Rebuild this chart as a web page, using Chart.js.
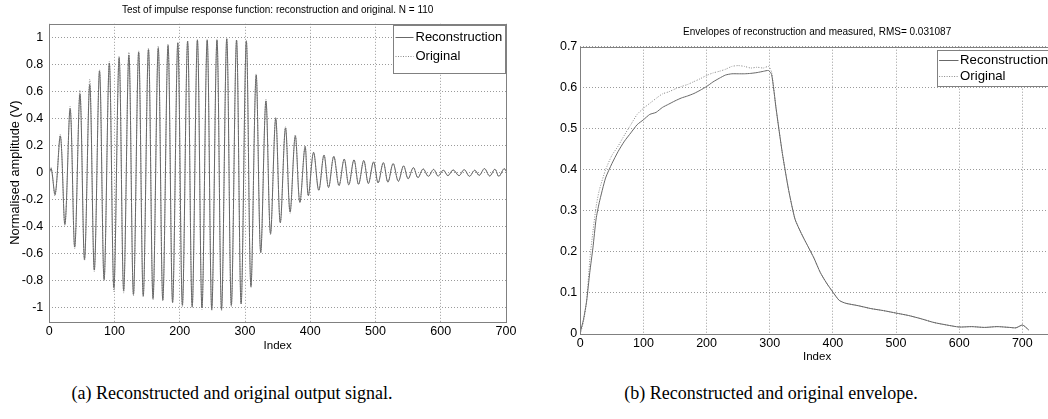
<!DOCTYPE html>
<html>
<head>
<meta charset="utf-8">
<script src="https://cdn.jsdelivr.net/npm/chart.js@4.4.1/dist/chart.umd.min.js"></script>
<style>
  html, body { margin: 0; padding: 0; background: #fff; width: 1048px; height: 419px; overflow: hidden; position: relative; }
  #wrapA { position: absolute; left: 0; top: 0; width: 524px; height: 360px; }
  #wrapB { position: absolute; left: 530px; top: 0; width: 540px; height: 370px; }
  .cap { position: absolute; top: 383px; font-family: "Liberation Serif", "Times New Roman", serif; font-size: 18px; line-height: 20px; color: #000; white-space: nowrap; transform: translateX(-50%); }
</style>
</head>
<body>
<div id="wrapA"><canvas id="sig" width="524" height="360" style="width:524px;height:360px"></canvas></div>
<div id="wrapB"><canvas id="env" width="540" height="370" style="width:540px;height:370px"></canvas></div>
<div class="cap" style="left:232px">(a) Reconstructed and original output signal.</div>
<div class="cap" style="left:771px">(b) Reconstructed and original envelope.</div>

<script>
// ---- axis ticks ----
const xTicks = [0, 100, 200, 300, 400, 500, 600, 700];
const sigYTicks = [-1, -0.8, -0.6, -0.4, -0.2, 0, 0.2, 0.4, 0.6, 0.8, 1];
const envYTicks = [0, 0.1, 0.2, 0.3, 0.4, 0.5, 0.6, 0.7];

// ---- output signal: turning points of each cycle ----
const sigStartIdx = [0, 3];
const reconStart = [0.0, 0.03];
const origStart = [0.0, 0.035];

const troughIdx = [9, 24, 39, 54, 69, 84, 99, 114, 129, 144, 159, 174, 189, 204, 219, 234, 249, 264, 279, 294,
                   309, 324, 339, 354, 369, 384, 397, 413, 428, 444, 459, 474, 489, 504, 519, 535, 550, 565, 581, 596,
                   611, 628, 644, 659, 675, 689];
const reconTrough = [-0.16, -0.38, -0.55, -0.64, -0.72, -0.79, -0.85, -0.87, -0.90, -0.91,
                     -0.93, -0.94, -0.96, -0.98, -0.99, -1.00, -1.01, -1.01, -0.98, -0.97,
                     -0.84, -0.59, -0.45, -0.37, -0.29, -0.22, -0.17, -0.13, -0.11, -0.095,
                     -0.09, -0.086, -0.08, -0.075, -0.07, -0.064, -0.045, -0.037, -0.027, -0.025,
                     -0.022, -0.022, -0.027, -0.02, -0.025, -0.027];
const origTrough = [-0.17, -0.39, -0.56, -0.65, -0.73, -0.80, -0.88, -0.89, -0.91, -0.92,
                    -0.94, -0.95, -0.96, -0.99, -1.00, -1.01, -1.02, -1.02, -0.99, -0.97,
                    -0.85, -0.59, -0.46, -0.37, -0.30, -0.22, -0.17, -0.13, -0.11, -0.097,
                    -0.09, -0.086, -0.081, -0.075, -0.07, -0.063, -0.046, -0.036, -0.027, -0.025,
                    -0.023, -0.022, -0.026, -0.021, -0.025, -0.027];

const peakIdx = [17, 32, 47, 62, 77, 92, 107, 122, 137, 152, 167, 182, 197, 212, 227, 242, 257, 272, 287, 302,
                 317, 332, 347, 362, 377, 392, 405, 421, 436, 452, 467, 482, 497, 512, 527, 543, 558, 573, 589, 604,
                 619, 636, 652, 667, 683, 697];
const reconPeak = [0.27, 0.47, 0.58, 0.65, 0.75, 0.81, 0.85, 0.87, 0.89, 0.91,
                   0.92, 0.94, 0.96, 0.97, 0.98, 0.98, 0.98, 0.99, 0.98, 0.97,
                   0.72, 0.53, 0.40, 0.33, 0.27, 0.19, 0.15, 0.13, 0.12, 0.10,
                   0.095, 0.09, 0.08, 0.074, 0.067, 0.05, 0.037, 0.027, 0.024, 0.018,
                   0.02, 0.022, 0.018, 0.03, 0.025, 0.03];
const origPeak = [0.28, 0.49, 0.61, 0.69, 0.76, 0.82, 0.86, 0.89, 0.90, 0.92,
                  0.935, 0.95, 0.96, 0.975, 0.985, 0.985, 0.985, 0.99, 0.98, 0.98,
                  0.73, 0.54, 0.41, 0.34, 0.28, 0.20, 0.15, 0.13, 0.12, 0.10,
                  0.095, 0.09, 0.079, 0.074, 0.066, 0.05, 0.037, 0.028, 0.024, 0.019,
                  0.02, 0.022, 0.018, 0.029, 0.025, 0.03];

const sigEndIdx = [700];
const reconEnd = [0.01];
const origEnd = [0.012];

// ---- envelopes ----
const envIdx = [0, 5, 10, 15, 20, 25, 30, 40, 50, 60, 70, 80, 90, 100, 110, 120, 130, 140, 150, 160,
                170, 180, 190, 200, 210, 220, 230, 240, 250, 260, 270, 280, 290, 298, 303, 310, 320, 330, 340, 350,
                360, 370, 380, 390, 400, 410, 420, 440, 460, 480, 500, 520, 540, 560, 580, 600, 620, 640, 660, 680,
                690, 700, 705, 710];
const reconEnv = [0.005, 0.035, 0.08, 0.15, 0.21, 0.28, 0.32, 0.38, 0.415, 0.445, 0.47, 0.49, 0.51, 0.522, 0.535, 0.54, 0.552, 0.56, 0.568, 0.575,
                  0.58, 0.586, 0.594, 0.603, 0.614, 0.623, 0.631, 0.634, 0.634, 0.634, 0.635, 0.637, 0.64, 0.642, 0.632, 0.55, 0.44, 0.35, 0.28, 0.245,
                  0.215, 0.185, 0.15, 0.124, 0.102, 0.082, 0.075, 0.069, 0.062, 0.057, 0.051, 0.045, 0.037, 0.028, 0.022, 0.017, 0.018, 0.016, 0.018, 0.016,
                  0.015, 0.022, 0.017, 0.01];
const origEnv = [0.0, 0.03, 0.08, 0.18, 0.25, 0.31, 0.35, 0.40, 0.435, 0.458, 0.485, 0.51, 0.535, 0.55, 0.562, 0.574, 0.585, 0.59, 0.597, 0.603,
                 0.608, 0.615, 0.622, 0.63, 0.636, 0.64, 0.645, 0.652, 0.654, 0.652, 0.648, 0.65, 0.648, 0.652, 0.638, 0.55, 0.44, 0.35, 0.28, 0.245,
                 0.215, 0.185, 0.15, 0.124, 0.102, 0.082, 0.075, 0.069, 0.062, 0.057, 0.051, 0.045, 0.037, 0.028, 0.022, 0.017, 0.018, 0.016, 0.018, 0.016,
                 0.015, 0.022, 0.017, 0.01];

// ---- styling ----
const SANS = '"Liberation Sans", Arial, Helvetica, sans-serif';
const FRAME = '#808080';
const GRID = '#9a9a9a';
const RECON = '#686868';
const ORIG = '#8a8a8a';

function pairs(xs, ys) { return xs.map((x, i) => ({ x: x, y: ys[i] })); }

function buildSignal(startX, startY, tX, tY, pX, pY, endX, endY) {
  const pts = pairs(startX, startY);
  for (let i = 0; i < tX.length; i++) {
    pts.push({ x: tX[i], y: tY[i] });
    pts.push({ x: pX[i], y: pY[i] });
  }
  return pts.concat(pairs(endX, endY));
}

// axes frame drawn over the data
const framePlugin = {
  id: 'axesFrame',
  afterDatasetsDraw(chart) {
    const { ctx, chartArea: a } = chart;
    ctx.save();
    ctx.setLineDash([]);
    ctx.strokeStyle = FRAME;
    ctx.lineWidth = 1;
    ctx.strokeRect(Math.round(a.left) + 0.5, Math.round(a.top) + 0.5,
                   Math.round(a.right - a.left), Math.round(a.bottom - a.top));
    ctx.restore();
  }
};

// title centred over the axes box
const axesTitle = {
  id: 'axesTitle',
  afterDraw(chart, args, o) {
    const { ctx, chartArea: a } = chart;
    ctx.save();
    ctx.font = o.size + 'px ' + SANS;
    ctx.fillStyle = '#000';
    ctx.textAlign = 'center';
    ctx.textBaseline = 'middle';
    ctx.fillText(o.text, (a.left + a.right) / 2, o.y);
    ctx.restore();
  }
};

// boxed legend inside the top-right corner of the axes
const boxLegend = {
  id: 'boxLegend',
  afterDraw(chart, args, o) {
    const { ctx, chartArea: a } = chart;
    const sets = chart.data.datasets;
    ctx.save();
    ctx.font = o.size + 'px ' + SANS;
    let tw = 0;
    sets.forEach(d => { tw = Math.max(tw, ctx.measureText(d.label).width); });
    const w = o.padL + o.sample + o.gap + tw + o.padR;
    const h = o.firstRow + o.rowH * (sets.length - 1) + o.bottomPad;
    const x0 = Math.round(a.right - o.rightGap - w) + 0.5;
    const y0 = Math.round(a.top + o.topGap) + 0.5;
    ctx.fillStyle = '#fff';
    ctx.fillRect(x0, y0, w, h);
    ctx.strokeStyle = FRAME;
    ctx.lineWidth = 1;
    ctx.strokeRect(x0, y0, Math.round(w), Math.round(h));
    sets.forEach((d, i) => {
      const cy = Math.round(y0 + o.firstRow + i * o.rowH) + 0.5;
      ctx.beginPath();
      ctx.setLineDash(d.borderDash || []);
      ctx.strokeStyle = d.borderColor;
      ctx.moveTo(x0 + o.padL, cy);
      ctx.lineTo(x0 + o.padL + o.sample, cy);
      ctx.stroke();
      ctx.setLineDash([]);
      ctx.fillStyle = '#000';
      ctx.textBaseline = 'middle';
      ctx.textAlign = 'left';
      ctx.fillText(d.label, x0 + o.padL + o.sample + o.gap, cy);
    });
    ctx.restore();
  }
};

function fixedWidth(w) { return s => { s.width = w; }; }
function fixedHeight(h) { return s => { s.height = h; }; }
function setTicks(list) { return s => { s.ticks = list.map(v => ({ value: v })); }; }

Chart.defaults.font.family = SANS;
Chart.defaults.color = '#000';

// ---- (a) output signal ----
new Chart(document.getElementById('sig'), {
  type: 'line',
  data: {
    datasets: [
      { label: 'Reconstruction',
        data: buildSignal(sigStartIdx, reconStart, troughIdx, reconTrough, peakIdx, reconPeak, sigEndIdx, reconEnd),
        borderColor: RECON, borderWidth: 1, pointRadius: 0, tension: 0.35, fill: false },
      { label: 'Original',
        data: buildSignal(sigStartIdx, origStart, troughIdx, origTrough, peakIdx, origPeak, sigEndIdx, origEnd),
        borderColor: ORIG, borderWidth: 1, borderDash: [1, 1.5], pointRadius: 0, tension: 0.35, fill: false }
    ]
  },
  options: {
    responsive: false, animation: false, events: [],
    layout: { padding: { left: 0, right: 18, top: 23.8, bottom: 6.5 } },
    plugins: {
      legend: { display: false }, tooltip: { enabled: false }, title: { display: false },
      axesTitle: { text: 'Test of impulse response function: reconstruction and original. N = 110', size: 10, y: 10 },
      boxLegend: { size: 13, padL: 2, sample: 18, gap: 2, padR: 3, topGap: 1.2, rightGap: 1.3,
                   firstRow: 11.7, rowH: 18.3, bottomPad: 18.3 }
    },
    scales: {
      x: { type: 'linear', min: 0, max: 700,
           afterBuildTicks: setTicks(xTicks), afterFit: fixedHeight(32),
           ticks: { font: { size: 12.5 }, padding: 3, maxRotation: 0, callback: v => String(v) },
           grid: { color: GRID, drawTicks: false }, border: { display: false, dash: [1, 2] },
           title: { display: true, text: 'Index', font: { size: 11.5 }, padding: { top: 0, bottom: 0.9 } } },
      y: { type: 'linear', min: -1.1, max: 1.1,
           afterBuildTicks: setTicks(sigYTicks), afterFit: fixedWidth(49.3),
           ticks: { font: { size: 12.5 }, padding: 6, callback: v => String(Math.round(v * 10) / 10) },
           grid: { color: GRID, drawTicks: false }, border: { display: false, dash: [1, 2] },
           title: { display: true, text: 'Normalised amplitude (V)', font: { size: 12.8 }, padding: { top: 7.8, bottom: 0 } } }
    }
  },
  plugins: [framePlugin, axesTitle, boxLegend]
});

// ---- (b) envelopes ----
new Chart(document.getElementById('env'), {
  type: 'line',
  data: {
    datasets: [
      { label: 'Reconstruction', data: pairs(envIdx, reconEnv),
        borderColor: RECON, borderWidth: 1, pointRadius: 0, tension: 0.2, fill: false },
      { label: 'Original', data: pairs(envIdx, origEnv),
        borderColor: ORIG, borderWidth: 1, borderDash: [1, 1.5], pointRadius: 0, tension: 0.2, fill: false }
    ]
  },
  options: {
    responsive: false, animation: false, events: [],
    layout: { padding: { left: 0, right: 16.1, top: 46.7, bottom: 6 } },
    plugins: {
      legend: { display: false }, tooltip: { enabled: false }, title: { display: false },
      axesTitle: { text: 'Envelopes of reconstruction and measured, RMS= 0.031087', size: 10, y: 32.3 },
      boxLegend: { size: 13.2, padL: 1.6, sample: 19.4, gap: 1.6, padR: 3, topGap: 3.3, rightGap: 3.6,
                   firstRow: 9, rowH: 16.7, bottomPad: 10 }
    },
    scales: {
      x: { type: 'linear', min: 0, max: 750,
           afterBuildTicks: setTicks(xTicks), afterFit: fixedHeight(30),
           ticks: { font: { size: 12.5 }, padding: 2, maxRotation: 0, callback: v => String(v) },
           grid: { color: GRID, drawTicks: false }, border: { display: false, dash: [1, 2] },
           title: { display: true, text: 'Index', font: { size: 11.5 }, padding: { top: 0, bottom: 0.1 } } },
      y: { type: 'linear', min: 0, max: 0.7,
           afterBuildTicks: setTicks(envYTicks), afterFit: fixedWidth(50.3),
           ticks: { font: { size: 12.5 }, padding: 3, callback: v => String(Math.round(v * 10) / 10) },
           grid: { color: GRID, drawTicks: false }, border: { display: false, dash: [1, 2] } }
    }
  },
  plugins: [framePlugin, axesTitle, boxLegend]
});
</script>
</body>
</html>
